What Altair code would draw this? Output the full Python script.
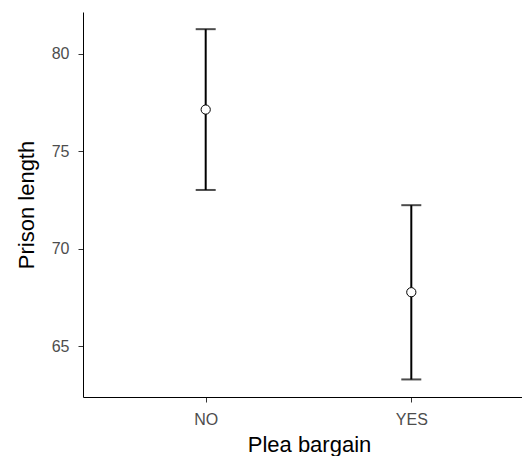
import altair as alt
import pandas as pd

categories = ["NO", "YES"]
means = [77.13, 67.77]
lower = [73.01, 63.30]
upper = [81.25, 72.23]
y_ticks = [65, 70, 75, 80]

df = pd.DataFrame({"plea": categories, "mean": means, "lo": lower, "hi": upper})

FONT = "Liberation Sans"

x_enc = alt.X(
    "plea:N",
    scale=alt.Scale(type="point", padding=0.5676, align=0.5257),
    axis=alt.Axis(
        title="Plea bargain",
        labelAngle=0,
        labelFont=FONT,
        labelFontSize=16,
        labelColor="#4d4d4d",
        labelPadding=9,
        tickSize=5,
        tickColor="#333333",
        tickWidth=1,
        domainColor="#000000",
        domainWidth=1,
        titleFont=FONT,
        titleFontSize=22,
        titleFontWeight="normal",
        titleColor="#000000",
        titleBaseline="alphabetic",
        titleAlign="center",
        titleX=226,
        titleY=54,
        grid=False,
    ),
)

y_scale = alt.Scale(domain=[62.40, 82.13], nice=False, zero=False)
y_axis = alt.Axis(
    title="Prison length",
    values=y_ticks,
    labelFont=FONT,
    labelFontSize=16,
    labelColor="#4d4d4d",
    labelPadding=9,
    tickSize=5,
    tickColor="#333333",
    tickWidth=1,
    domainColor="#000000",
    domainWidth=1,
    titleFont=FONT,
    titleFontSize=22,
    titleFontWeight="normal",
    titleColor="#000000",
    titleAngle=270,
    titleBaseline="alphabetic",
    titleAlign="center",
    titleX=-50,
    titleY=192.5,
    grid=False,
)

base = alt.Chart(df)

rule = base.mark_rule(color="black", strokeWidth=2).encode(
    x=x_enc,
    y=alt.Y("lo:Q", scale=y_scale, axis=y_axis),
    y2="hi:Q",
)
cap_hi = base.mark_tick(color="black", size=20, thickness=2).encode(
    x=x_enc, y=alt.Y("hi:Q", scale=y_scale, axis=y_axis)
)
cap_lo = base.mark_tick(color="black", size=20, thickness=2).encode(
    x=x_enc, y=alt.Y("lo:Q", scale=y_scale, axis=y_axis)
)
pts = base.mark_point(
    filled=True, fill="white", stroke="black", strokeWidth=1, size=85, opacity=1
).encode(x=x_enc, y=alt.Y("mean:Q", scale=y_scale, axis=y_axis))

chart = (
    alt.layer(rule, cap_hi, cap_lo, pts)
    .properties(
        width=439,
        height=385,
        autosize=alt.AutoSizeParams(type="none"),
        padding={"left": 75, "top": 4, "right": 0, "bottom": 59},
    )
    .configure_view(stroke=None)
)

chart.save("out.html", embed_options={"renderer": "svg", "actions": False})
